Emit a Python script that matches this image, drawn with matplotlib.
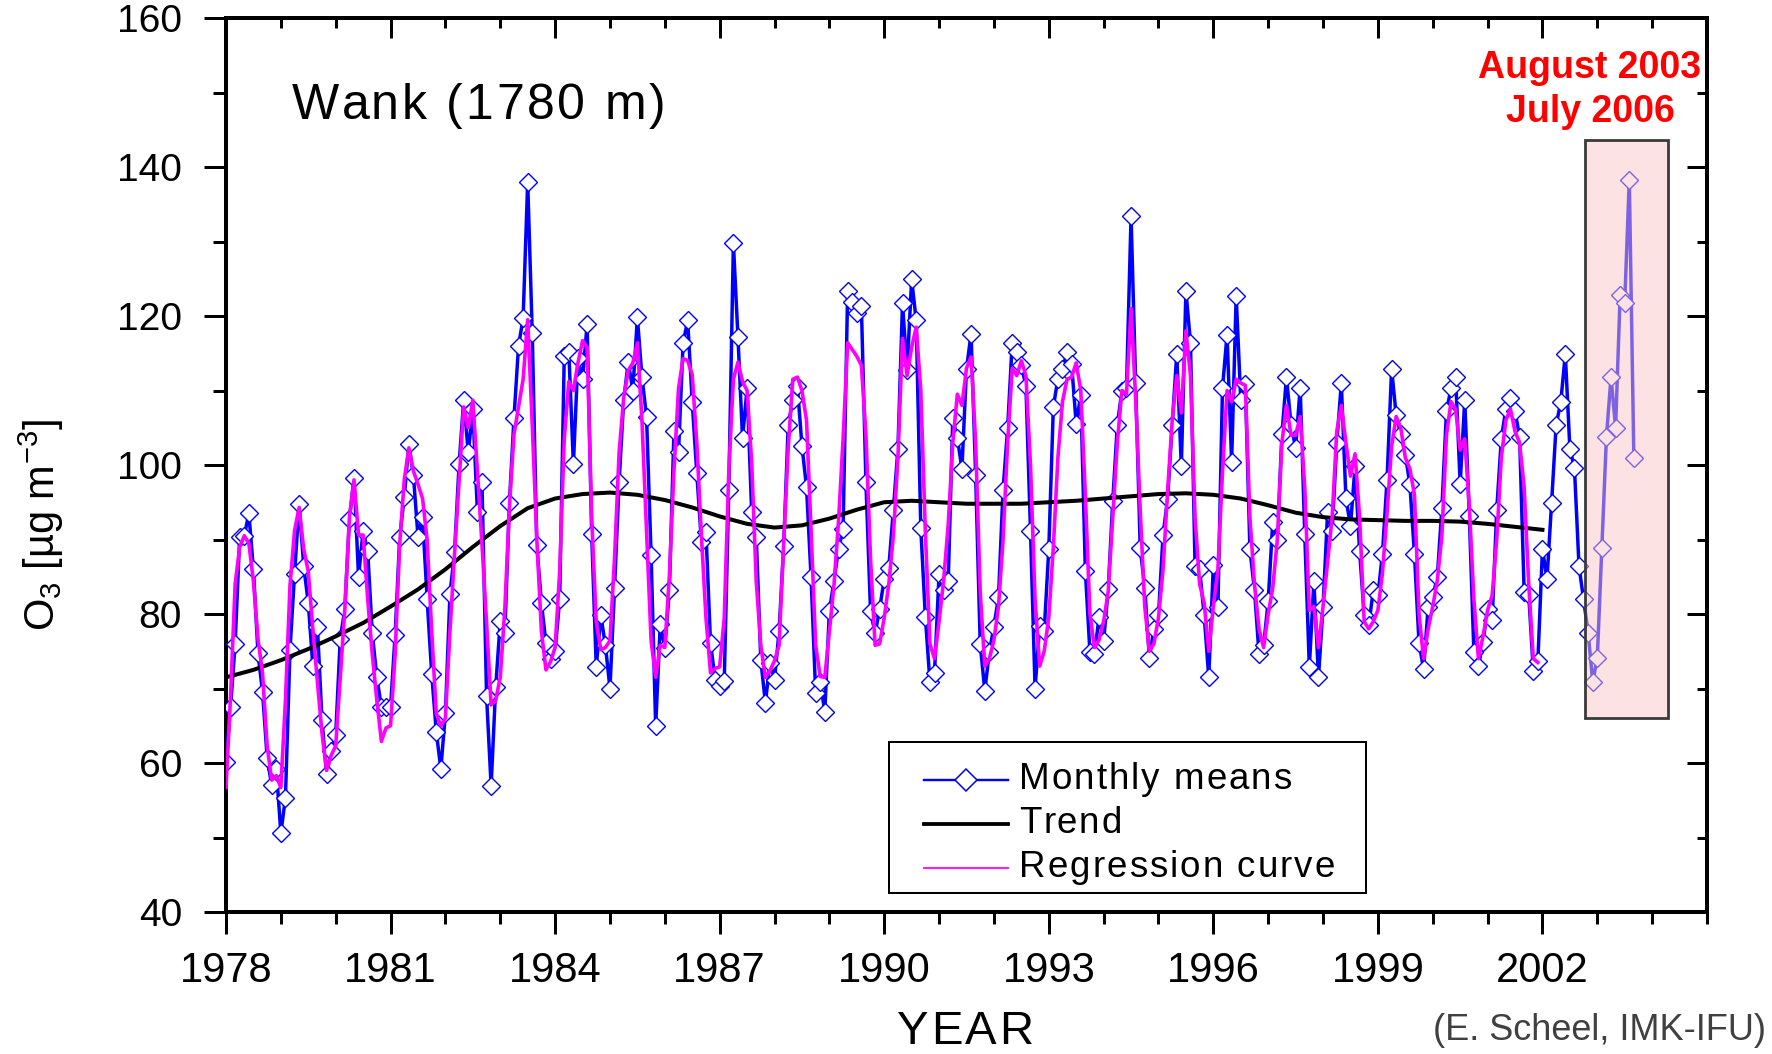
import numpy as np
import matplotlib
matplotlib.use("Agg")
import matplotlib.pyplot as plt
from matplotlib.ticker import MultipleLocator, FixedLocator
from matplotlib.patches import Rectangle
from matplotlib.lines import Line2D

plt.rcParams['font.family'] = ['Liberation Sans', 'DejaVu Sans']
plt.rcParams['mathtext.fontset'] = 'custom'
plt.rcParams['mathtext.rm'] = 'Liberation Sans'
plt.rcParams['mathtext.it'] = 'Liberation Sans'
plt.rcParams['mathtext.default'] = 'regular'

# ---------------- data ----------------
start_year = 1978
# monthly means of O3 (ug m-3), Jan 1978 ...
monthly_1978_1985 = [
    60.1, 67.5, 76, 90.4, 90.5, 93.5, 86, 74.7, 69.5, 60.7, 57, 59.2,
    50.6, 55.3, 75.2, 85.4, 94.8, 86.4, 81.5, 73, 78.3, 65.8, 58.5, 61.6,
    63.8, 76.7, 80.7, 92.7, 98.3, 85, 91.2, 88.4, 77.4, 71.5, 67.5, 67.5,
    67.5, 77.2, 90.3, 95.7, 102.8, 98.6, 90.4, 93, 82, 72, 64.2, 59.2,
    66.7, 82.7, 88.3, 100.2, 108.7, 101.7, 107.5, 93.7, 97.7, 69, 56.9, 70.2,
    79, 77.4, 94.9, 106.3, 116, 119.7, 138, 117.7, 89.2, 81.5, 76.1, 74,
    75, 82, 114.6, 115.2, 100.1, 114.3, 111.5, 118.9, 90.7, 72.9, 79.8, 75.8,
    70, 83.5, 97.7, 108.7, 113.8, 110, 119.8, 111.8, 106.5, 87.9, 64.9, 78.6,
]
monthly_1986_1993 = [
    75.5, 83.2, 104.6, 101.8, 116.4, 119.4, 108.4, 98.9, 89.7, 91, 76.1, 71.2,
    70.3, 71, 96.7, 129.8, 117.2, 103.6, 110.3, 93.7, 90.4, 73.8, 68.1, 73.4,
    71.2, 77.7, 89.1, 105.4, 108.7, 110.6, 102.6, 97, 84.9, 69.4, 70.9, 66.9,
    80.4, 84.4, 88.7, 91.4, 123.4, 121.9, 120.4, 121.4, 97.7, 80.4, 77.4, 80.7,
    84.7, 86.2, 94, 102.2, 121.7, 112.7, 124.9, 119.4, 91.5, 79.6, 70.9, 72.1,
    85.4, 83.2, 84.4, 106.3, 103.6, 99.5, 112.9, 117.6, 98.6, 76, 69.7, 74.9,
    78.3, 82.3, 96.7, 105, 116.4, 115.2, 113.4, 110.6, 91.2, 70, 78.4, 77.7,
    88.7, 107.8, 111.6, 112.9, 115.2, 113.5, 105.5, 109.4, 85.8, 74.9, 74.6, 79.6,
]
monthly_1994_2003 = [
    76.4, 83.3, 95.2, 105.4, 110, 110.3, 133.4, 111, 88.9, 83.5, 74.1, 78,
    79.8, 90.6, 95.5, 105.4, 114.9, 99.8, 123.4, 116.4, 86.4, 86, 79.8, 71.5,
    86.6, 80.9, 110.3, 117.5, 100.4, 122.7, 108.7, 110.9, 88.7, 83.2, 74.6, 75.8,
    81.7, 92.4, 90, 104.1, 111.8, 105.4, 102.3, 110.4, 90.7, 72.9, 84.4, 71.5,
    81, 93.7, 91.2, 102.9, 111, 95.6, 91.8, 99.8, 88.4, 79.8, 78.5, 83.2,
    82.5, 88.1, 98, 112.9, 106.7, 104.1, 101.4, 97.4, 88, 76.1, 72.6, 81,
    82.3, 85, 94.2, 107.2, 110.3, 111.8, 97.5, 108.7, 93.2, 74.9, 73, 76.3,
    80.7, 79.2, 94, 103.5, 107.5, 109, 107.2, 103.8, 82.9, 82.6, 72.4, 73.7,
    88.7, 84.7, 94.9, 105.4, 108.4, 114.9, 102.2, 99.6, 86.4, 82, 77.5, 70.9,
    74.1, 88.8, 103.8, 111.8, 105, 122.8, 121.8, 138.3, 100.9,
]
# regression curve, monthly, Jan 1978 ... Dec 2001
regression_1978_1989 = [
    56.7, 69, 84, 89, 90.5, 89.5, 84.4, 76.7, 72, 62.3, 57.7, 58.3,
    56.7, 68.4, 83.8, 91.2, 94.3, 88.7, 85.7, 78, 70.9, 64, 59, 61,
    62.3, 71.5, 80.7, 93, 98, 90.6, 90.6, 82, 74.6, 68.4, 62.9, 64.7,
    65, 74.6, 89.4, 98, 102.3, 99.2, 97.4, 95.5, 90, 77.7, 66.6, 65,
    66, 77.7, 88, 98, 107.8, 105, 108.7, 99.2, 89.4, 78.9, 67.8, 68.4,
    71.5, 80.7, 94.3, 104.1, 107.8, 111.5, 119.5, 105.4, 90, 77.7, 72.5, 73.6,
    75.5, 85.7, 103.5, 111.2, 110, 113.7, 116.7, 115.8, 93, 78.9, 75.2, 75.5,
    76.4, 87.5, 101.7, 109, 112.7, 113.7, 116.4, 106, 91.2, 76.4, 71.5, 75.8,
    75.5, 85.1, 99.2, 110.3, 114.3, 114, 112.1, 102.9, 90.6, 79.5, 72.1, 72.7,
    72.9, 79.5, 99.2, 111.5, 113.8, 111.2, 110, 100.4, 84.4, 75.8, 71.5, 72.4,
    73.7, 75.8, 89.4, 102.3, 111.5, 111.8, 110, 106, 91.2, 75.8, 71.6, 71.5,
    77.7, 83.8, 92.4, 103.5, 116.4, 115.5, 114.6, 113.4, 104.1, 87.5, 75.8, 76,
]
regression_1990_2001 = [
    79.5, 84, 90.5, 101, 117, 112, 115.8, 118.5, 110, 91, 76, 74,
    79, 84.5, 92, 103, 109.5, 108, 113, 114.5, 103, 83, 73, 74,
    76.5, 81, 90, 103, 113, 112, 114, 112, 100, 82, 73, 75,
    79.5, 89, 101, 108.5, 111.5, 111.8, 113.7, 110, 96, 80, 75.5, 76.5,
    79, 83, 93, 103, 110, 109.5, 121, 109, 94, 81, 75, 76,
    79.5, 86, 96.5, 106, 112, 107, 118, 112, 93, 84, 81.5, 75,
    81, 86, 99, 110, 108.5, 111.5, 111, 110.7, 93, 84, 78, 75.5,
    80, 83.5, 90, 103, 108, 104, 104, 106.5, 97, 80.5, 81, 75.5,
    81, 87, 93, 104.5, 108, 103, 98.5, 101.5, 93, 79, 78, 79,
    80.5, 85.5, 93.5, 102.5, 106.5, 105, 101, 99.5, 96, 80, 74, 78,
    81, 84.5, 90.5, 104, 108.5, 107.5, 102, 103.5, 94.5, 82, 74, 77,
    80.5, 82.5, 90, 101, 106, 107.5, 104.5, 103, 97, 84, 74, 73.5,
]
# trend, read every half year 1978.0 ... 2002.0
trend_years = [1978 + 0.5 * k for k in range(49)]
trend_values = [
    71.5, 72.5, 73.8, 75.3, 77.0, 78.8, 81.0, 83.3, 86.0, 89.0, 91.8, 94.2,
    95.5, 96.1, 96.3, 96.0, 95.3, 94.3, 93.1, 92.1, 91.6, 91.9, 92.8, 94.0,
    95.0, 95.2, 95.0, 94.8, 94.8, 94.8, 95.0, 95.2, 95.5, 95.8, 96.1, 96.2,
    96.0, 95.5, 94.6, 93.6, 93.0, 92.7, 92.6, 92.5, 92.5, 92.4, 92.1, 91.7,
    91.3,
]
# highlighted period box
box_x = [2002.77, 2004.29]
box_y = [66.0, 143.6]
x_major_ticks = [1978, 1981, 1984, 1987, 1990, 1993, 1996, 1999, 2002]
legend_labels = ['Monthly means', 'Trend', 'Regression curve']

monthly = np.array(monthly_1978_1985 + monthly_1986_1993 + monthly_1994_2003)
regression = np.array(regression_1978_1989 + regression_1990_2001)
t_monthly = start_year + np.arange(len(monthly)) / 12.0
t_regr = start_year + np.arange(len(regression)) / 12.0

# ---------------- figure ----------------
W, H = 1772, 1054
PT = 72 / 100.0  # points per pixel at dpi 100
fig = plt.figure(figsize=(W / 100, H / 100), dpi=100)
ax = fig.add_axes([226 / W, 1 - 912 / H, (1707 - 226) / W, (912 - 18) / H])

BLUE = '#0000FF'
MAG = '#FF00FF'
ax.plot(t_monthly, monthly, color=BLUE, lw=2.5, marker='D', ms=9.0,
        mfc='white', mec=BLUE, mew=1.0, label=legend_labels[0], zorder=3)
ax.plot(trend_years, trend_values, color='black', lw=2.9, label=legend_labels[1], zorder=4)
ax.plot(t_regr, regression, color=MAG, lw=2.6, label=legend_labels[2], zorder=5)

ax.add_patch(Rectangle((box_x[0], box_y[0]), box_x[1] - box_x[0], box_y[1] - box_y[0],
                       facecolor=(0.98, 0.78, 0.78), alpha=0.5, edgecolor='none', zorder=6))
ax.add_patch(Rectangle((box_x[0], box_y[0]), box_x[1] - box_x[0], box_y[1] - box_y[0],
                       facecolor='none', edgecolor='#3a3a3a', lw=2.0, zorder=7))

ax.set_xlim(1978, 2005)
ax.set_ylim(40, 160)
ax.xaxis.set_major_locator(FixedLocator(x_major_ticks))
ax.xaxis.set_minor_locator(MultipleLocator(1))
ax.yaxis.set_major_locator(MultipleLocator(20))
ax.yaxis.set_minor_locator(MultipleLocator(10))

for s in ax.spines.values():
    s.set_linewidth(4 * PT)

ax.tick_params(axis='x', which='major', labelsize=30, width=3 * PT, length=22 * PT,
               pad=17 * PT, direction='out', top=False)
ax.tick_params(axis='x', which='minor', width=3 * PT, length=12 * PT, direction='out', top=False)
ax.tick_params(axis='y', which='major', labelsize=28, width=3 * PT, length=22 * PT,
               pad=22 * PT, direction='out', right=False)
ax.tick_params(axis='y', which='minor', width=3 * PT, length=13 * PT, direction='out', right=False)

# inward ticks on top and right
axt = ax.twiny()
axt.set_xlim(ax.get_xlim())
axt.xaxis.set_major_locator(FixedLocator(x_major_ticks))
axt.xaxis.set_minor_locator(MultipleLocator(1))
axt.tick_params(axis='x', which='both', direction='in', width=3 * PT,
                labeltop=False, labelbottom=False, bottom=False, top=True)
axt.tick_params(axis='x', which='major', length=20 * PT)
axt.tick_params(axis='x', which='minor', length=10 * PT)
axr = ax.twinx()
axr.set_ylim(ax.get_ylim())
axr.yaxis.set_major_locator(MultipleLocator(20))
axr.yaxis.set_minor_locator(MultipleLocator(10))
axr.tick_params(axis='y', which='both', direction='in', width=3 * PT,
                labelright=False, labelleft=False, left=False, right=True)
axr.tick_params(axis='y', which='major', length=20 * PT)
axr.tick_params(axis='y', which='minor', length=10 * PT)
for a in (axt, axr):
    for s in a.spines.values():
        s.set_visible(False)

ax.set_ylabel('O$_3$ [µg m$^{-3}$]', fontsize=30)
ax.yaxis.set_label_coords((66 - 226) / 1481, (912 - 525) / 894)

renderer = fig.canvas.get_renderer()


def text_width(s, size, **kw):
    t = fig.text(0, 0, s, fontsize=size, **kw)
    w = t.get_window_extent(renderer).width
    t.remove()
    return w


def tracked_text(x_px, base_px, s, size, track, ha='left', **kw):
    ref = text_width('|', size, **kw)
    offs = [0.0] + [text_width(s[:k] + '|', size, **kw) - ref for k in range(1, len(s))]
    total = text_width(s, size, **kw) + track * (len(s) - 1)
    if ha == 'center':
        x0 = x_px - total / 2
    elif ha == 'right':
        x0 = x_px - total
    else:
        x0 = x_px
    for k, ch in enumerate(s):
        if ch == ' ':
            continue
        fig.text((x0 + offs[k] + k * track) / W, 1 - base_px / H, ch, fontsize=size,
                 ha='left', va='baseline', **kw)


# legend (drawn by hand to match the original frame and paddings)
fig.add_artist(Rectangle((889 / W, 1 - 893 / H), (1366 - 889) / W, (893 - 742) / H,
                         transform=fig.transFigure, facecolor='white',
                         edgecolor='black', lw=2 * PT, zorder=20))
rows = [780, 824, 868]
hx = [924 / W, 1008 / W]
fig.add_artist(Line2D(hx, [1 - rows[0] / H] * 2, transform=fig.transFigure,
                      color=BLUE, lw=2.4 * PT, zorder=21))
fig.add_artist(Line2D([966 / W], [1 - rows[0] / H], transform=fig.transFigure,
                      marker='D', ms=11, mfc='white', mec=BLUE, mew=1.1, ls='none', zorder=22))
fig.add_artist(Line2D(hx, [1 - rows[1] / H] * 2, transform=fig.transFigure,
                      color='black', lw=3.8 * PT, zorder=21))
fig.add_artist(Line2D(hx, [1 - rows[2] / H] * 2, transform=fig.transFigure,
                      color=MAG, lw=1.8 * PT, zorder=21))
for lab, r in zip(legend_labels, rows):
    tracked_text(1019, r + 9, lab, 26.5, 2.0, zorder=23)

tracked_text(292, 119, 'Wank (1780 m)', 36, 2.8)
tracked_text(965, 1044, 'YEAR', 34, 2.5, ha='center')
fig.text(1590 / W, 1 - 68 / H, 'August 2003', fontsize=27, fontweight='bold',
         color='#FF0000', ha='center', va='center')
fig.text(1590 / W, 1 - 112 / H, 'July 2006', fontsize=27, fontweight='bold',
         color='#FF0000', ha='center', va='center')
fig.text(1766 / W, 1 - 1030 / H, '(E. Scheel, IMK-IFU)', fontsize=26, color='#404040',
         ha='right', va='center')

fig.savefig('out.png', dpi=100)
